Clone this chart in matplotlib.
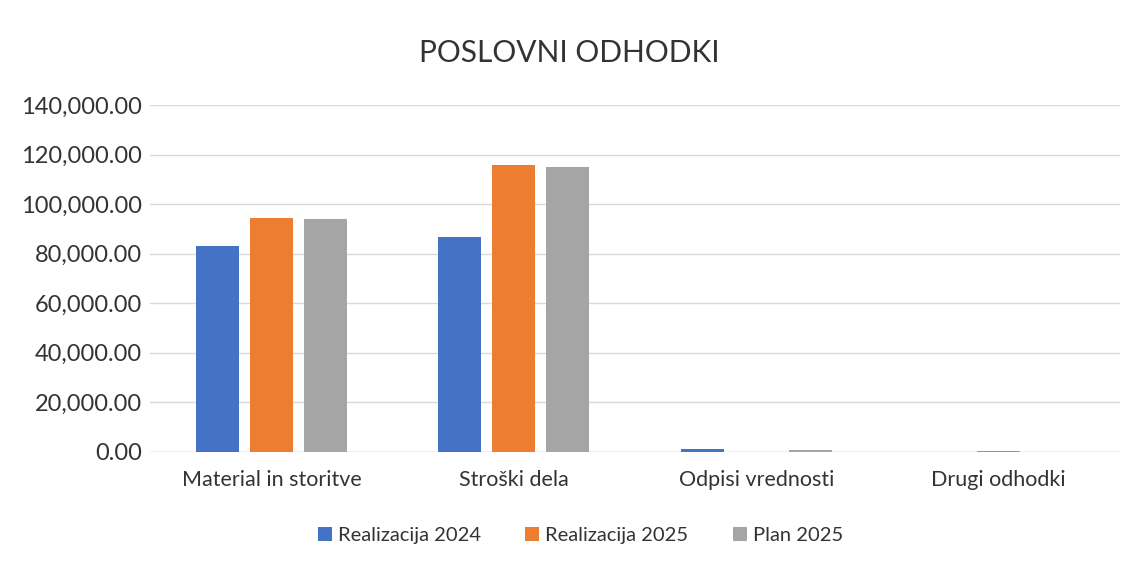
import numpy as np
import matplotlib.pyplot as plt

plt.rcParams['font.family'] = ['Lato', 'DejaVu Sans']

kategorije = ["Material in storitve", "Stroški dela", "Odpisi vrednosti", "Drugi odhodki"]
real_2024 = [83000, 86700, 1200, 0]
real_2025 = [94300, 115800, 0, 300]
plan_2025 = [94000, 115000, 700, 0]
serije = ["Realizacija 2024", "Realizacija 2025", "Plan 2025"]
barve = ["#4472C4", "#ED7D31", "#A5A5A5"]

fig = plt.figure(figsize=(11.38, 5.62), dpi=100)
ax = fig.add_axes([0.132, 0.196, 0.852, 0.617])

x = np.arange(len(kategorije))
sirina = 0.178
for i, (vals, ime) in enumerate(zip([real_2024, real_2025, plan_2025], serije)):
    ax.bar(x + (i - 1) * 0.223, vals, sirina, color=barve[i], label=ime, zorder=3)

ax.set_xlim(-0.5, len(kategorije) - 0.5)
ax.set_ylim(0, 140000)
ax.set_yticks(np.arange(0, 140001, 20000))
ax.set_yticklabels([f"{v:,.2f}" for v in np.arange(0, 140001, 20000)])
ax.set_xticks(x)
ax.set_xticklabels(kategorije)
ax.tick_params(axis='both', length=0, labelsize=15.5, colors="#333333", pad=8)
ax.tick_params(axis='y', labelsize=17, pad=6)
ax.tick_params(axis='x', pad=13)
ax.grid(axis='y', color="#D9D9D9", linewidth=1, zorder=0)
for s in ax.spines.values():
    s.set_visible(False)
ax.axhline(0, color="#D9D9D9", linewidth=1, zorder=1)

fig.suptitle("POSLOVNI ODHODKI", fontsize=21.5, color="#333333", y=0.93)
fig.legend(loc="lower center", ncol=3, frameon=False, fontsize=14.5,
           bbox_to_anchor=(0.51, 0.0), handlelength=0.7, handleheight=0.7,
           handletextpad=0.3, columnspacing=2.2, labelcolor="#333333")

fig.savefig("out.png", dpi=100, facecolor="white")
